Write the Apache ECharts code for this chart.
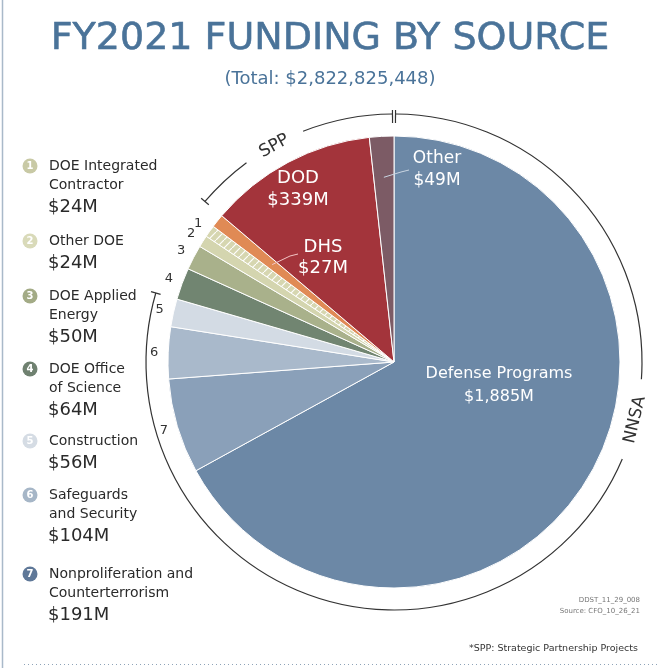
<!DOCTYPE html>
<html><head><meta charset="utf-8">
<script src="https://cdn.jsdelivr.net/npm/echarts@6/dist/echarts.min.js"></script>
<style>html,body{margin:0;padding:0;background:#fff}#c{width:660px;height:668px}</style>
</head><body><div id="c"></div>
<script>
// ---- data ----
const titleText = 'FY2021 FUNDING BY SOURCE';
const subtitleText = '(Total: $2,822,825,448)';
const sliceNames = ['Defense Programs','Nonproliferation and Counterterrorism','Safeguards and Security','Construction','DOE Office of Science','DOE Applied Energy','Other DOE','DOE Integrated Contractor','DHS','DOD','Other'];
const sliceValues = [1885,191,104,56,64,50,24,24,27,339,49];
const sliceKeys = ['','7','6','5','4','3','2','1','','',''];
const sliceLabels = ['Defense Programs\n$1,885M','','','','','','','','DHS\n$27M','DOD\n$339M','Other\n$49M'];
const legendNumbers = ['1','2','3','4','5','6','7'];
const legendLines = [['DOE Integrated','Contractor'],['Other DOE'],['DOE Applied','Energy'],['DOE Office','of Science'],['Construction'],['Safeguards','and Security'],['Nonproliferation and','Counterterrorism']];
const legendValues = ['$24M','$24M','$50M','$64M','$56M','$104M','$191M'];
const groupNames = ['SPP','NNSA'];
const noteLines = ['DDST_11_29_008','Source: CFO_10_26_21'];
const footnote = '*SPP: Strategic Partnership Projects';

// ---- styles ----
const sliceColors = ['#6c88a6','#8aa0b9','#a9b9cb','#d3dbe4','#718571','#a9b18b','#d4d5af','#d6d6b0','#e08a55','#a3343b','#7c5b65'];
const legendColors = ['#c8c9a5','#d9dab9','#a3ab86','#6f8170','#d5dce4','#a6b6c7','#5f7898'];
const FONT = '"DejaVu Sans", sans-serif';
const BLUE = '#4a7399';
const cx = 394, cy = 362, R = 226, RA = 248;

const total = sliceValues.reduce((a,b)=>a+b,0);
const cum = []; let acc = 0;
sliceValues.forEach(v => { cum.push(acc); acc += v; });
const ang = v => v / total * 360;
const mid = i => ang(cum[i] + sliceValues[i] / 2);
function pt(theta, r) { const t = theta * Math.PI / 180; return [cx + r * Math.sin(t), cy - r * Math.cos(t)]; }
const phi = th => (th - 90) * Math.PI / 180;

function hatch(bg) {
  const c = document.createElement('canvas'); c.width = 8; c.height = 8;
  const g = c.getContext('2d');
  g.fillStyle = bg; g.fillRect(0, 0, 8, 8);
  g.strokeStyle = 'rgba(255,255,255,0.95)'; g.lineWidth = 1.2;
  g.beginPath(); g.moveTo(0, 8); g.lineTo(8, 0); g.stroke();
  return { image: c, repeat: 'repeat' };
}

const labelPos = {
  'Defense Programs': [499, 385, 23, 16],
  'DOD': [298, 189, 22, 18],
  'DHS': [323, 258, 21, 18],
  'Other': [437, 170, 22, 17]
};

const data = sliceNames.map((n, i) => {
  const item = { name: n, value: sliceValues[i], itemStyle: { color: sliceColors[i] } };
  if (sliceKeys[i] === '1') item.itemStyle.color = hatch(sliceColors[i]);
  if (sliceKeys[i]) {
    item.label = { show: true, formatter: sliceKeys[i], color: '#333', fontSize: 13, fontFamily: FONT };
  } else {
    const lp = labelPos[n];
    item.label = { show: true, formatter: sliceLabels[i], color: '#fff', fontSize: lp[3], lineHeight: lp[2], fontFamily: FONT, align: 'center' };
  }
  return item;
});

const graphics = [];
graphics.push({ type: 'line', shape: { x1: 2.5, y1: 0, x2: 2.5, y2: 668 }, style: { stroke: '#a9b9c9', lineWidth: 1.5 } });
graphics.push({ type: 'line', shape: { x1: 24, y1: 664.5, x2: 660, y2: 664.5 }, style: { stroke: '#8ea3b8', lineWidth: 1, lineDash: [1, 3] } });
graphics.push({ type: 'text', x: 330, y: 39, style: { text: titleText, fill: BLUE, font: '38px ' + FONT, textAlign: 'center', textVerticalAlign: 'middle', stroke: BLUE, lineWidth: 0.6 } });
graphics.push({ type: 'text', x: 330, y: 79, style: { text: subtitleText, fill: BLUE, font: '18px ' + FONT, textAlign: 'center', textVerticalAlign: 'middle' } });
const legendY = [166, 241, 296, 369, 441, 495, 574];
legendNumbers.forEach((num, i) => {
  const y = legendY[i];
  graphics.push({ type: 'circle', shape: { cx: 30, cy: y, r: 7.5 }, style: { fill: legendColors[i] } });
  graphics.push({ type: 'text', x: 30, y: y + 0.5, style: { text: num, fill: '#fff', font: 'bold 10px ' + FONT, textAlign: 'center', textVerticalAlign: 'middle' } });
  legendLines[i].forEach((ln, k) => {
    graphics.push({ type: 'text', x: 49, y: y + k * 19, style: { text: ln, fill: '#2a2a2a', font: '14px ' + FONT, textVerticalAlign: 'middle' } });
  });
  graphics.push({ type: 'text', x: 48, y: y + (legendLines[i].length - 1) * 19 + 22, style: { text: legendValues[i], fill: '#2a2a2a', font: '18px ' + FONT, textVerticalAlign: 'middle' } });
});
const arcStyle = { stroke: '#333', fill: 'none', lineWidth: 1.2 };
function arc(a, b) { graphics.push({ type: 'arc', shape: { cx, cy, r: RA, startAngle: phi(a), endAngle: phi(b), clockwise: true }, style: arcStyle }); }
function tick(th, r1, r2) { const p = pt(th, r1), q = pt(th, r2); graphics.push({ type: 'line', shape: { x1: p[0], y1: p[1], x2: q[0], y2: q[1] }, style: { stroke: '#333', lineWidth: 1.2 } }); }
const bSPP = ang(cum[9]);
const bNNSA = ang(cum[4]);
arc(bSPP, 323.5); arc(338.5, 359.6);
arc(0.4, 94); arc(113, bNNSA);
tick(bSPP, RA - 5, RA + 5);
tick(bNNSA, RA - 5, RA + 5);
tick(-0.35, RA - 9, RA + 4); tick(0.35, RA - 9, RA + 4);
const sppP = pt(331, RA - 1);
graphics.push({ type: 'text', x: sppP[0], y: sppP[1], rotation: (360 - 331) * Math.PI / 180, style: { text: groupNames[0], fill: '#333', font: '17px ' + FONT, textAlign: 'center', textVerticalAlign: 'middle' } });
const nnP = pt(103.5, RA);
graphics.push({ type: 'text', x: nnP[0], y: nnP[1], rotation: (180 - 103.5) * Math.PI / 180, style: { text: groupNames[1], fill: '#333', font: '17px ' + FONT, textAlign: 'center', textVerticalAlign: 'middle' } });
const dP = pt(mid(8), 156);
graphics.push({ type: 'polyline', shape: { points: [dP, [290, 256], [298, 254]] }, style: { stroke: '#f2c4c4', lineWidth: 1, fill: 'none' }, z: 10 });
const oP = pt(mid(10), 185);
graphics.push({ type: 'polyline', shape: { points: [oP, [401, 172], [409, 170]] }, style: { stroke: '#c9d5e2', lineWidth: 1, fill: 'none' }, z: 10 });
noteLines.forEach((t, k) => {
  graphics.push({ type: 'text', x: 640, y: 600 + k * 11, style: { text: t, fill: '#777', font: '7px ' + FONT, textAlign: 'right', textVerticalAlign: 'middle' } });
});
graphics.push({ type: 'text', x: 638, y: 649, style: { text: footnote, fill: '#333', font: '9.5px ' + FONT, textAlign: 'right', textVerticalAlign: 'middle' } });

const chart = echarts.init(document.getElementById('c'), null, { renderer: 'canvas' });
chart.setOption({
  animation: false,
  backgroundColor: '#fff',
  graphic: graphics,
  series: [{
    type: 'pie',
    center: [cx, cy],
    radius: [0, R],
    startAngle: 90,
    clockwise: true,
    avoidLabelOverlap: false,
    silent: true,
    itemStyle: { borderColor: '#fff', borderWidth: 1 },
    label: { position: 'inside', rotate: 0 },
    labelLine: { show: false },
    labelLayout: function (p) {
      const i = p.dataIndex;
      if (sliceKeys[i]) {
        const q = pt(mid(i), 240);
        return { x: q[0], y: q[1], align: 'center', verticalAlign: 'middle' };
      }
      const lp = labelPos[sliceNames[i]];
      return { x: lp[0], y: lp[1], align: 'center', verticalAlign: 'middle' };
    },
    data: data
  }]
});
</script>
</body></html>
